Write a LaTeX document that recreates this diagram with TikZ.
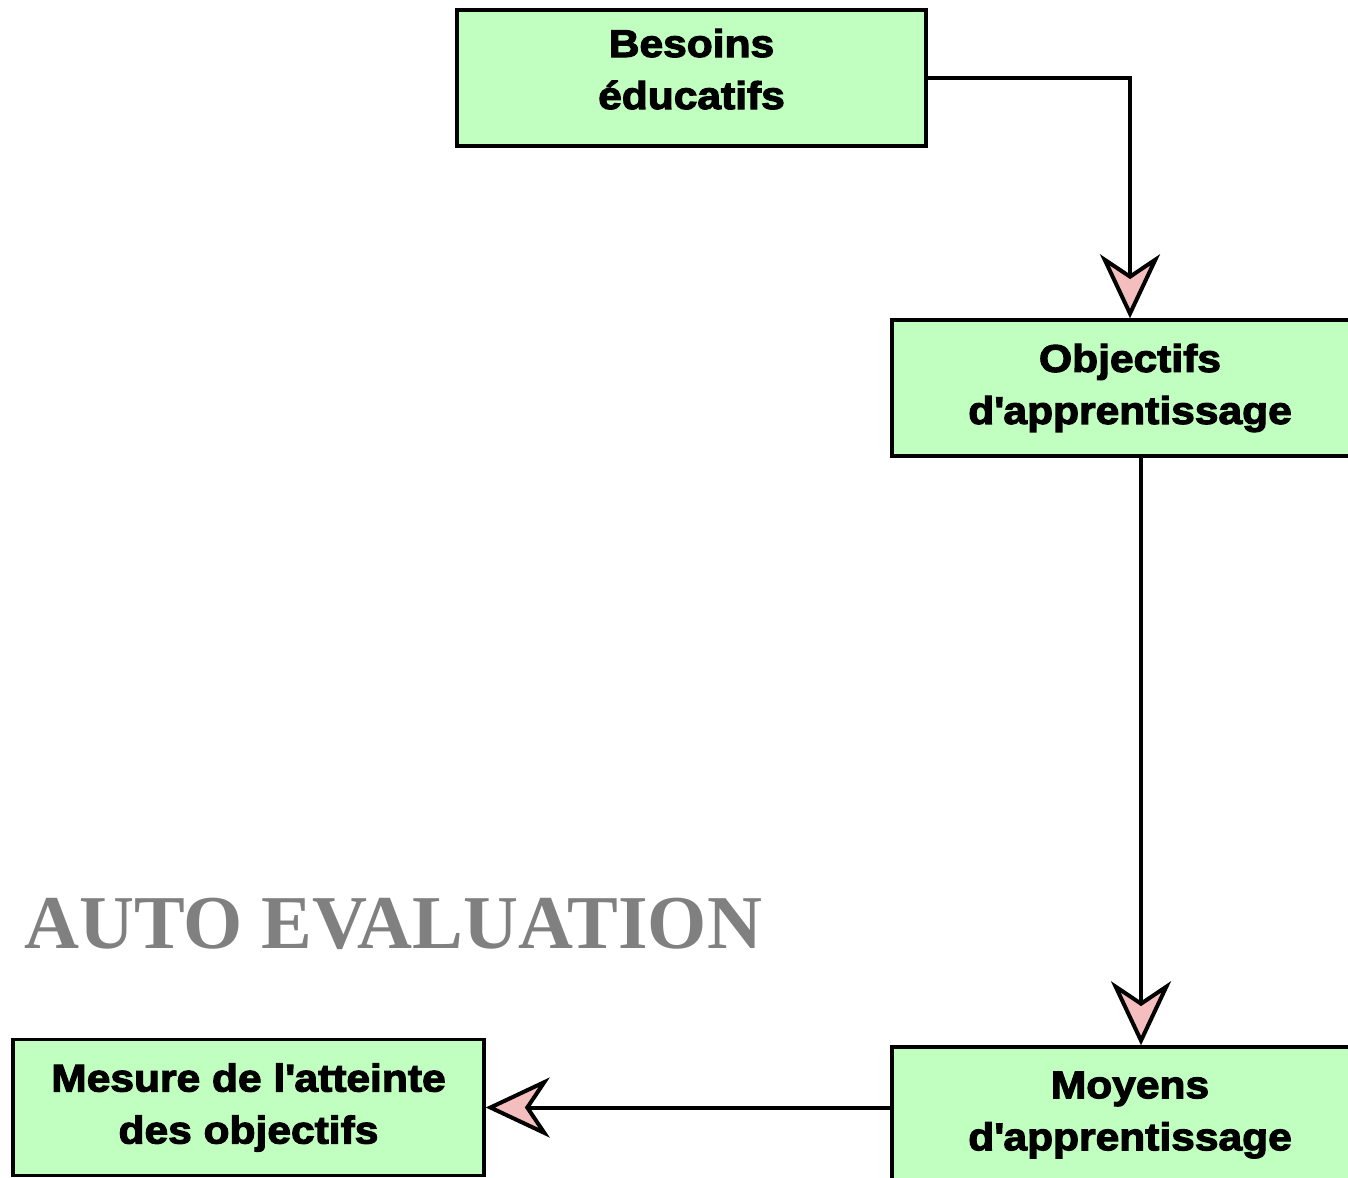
\documentclass[tikz,border=0pt]{standalone}
\usepackage{fontspec}
\setmainfont{Liberation Serif}
\newfontfamily\boxfont[FakeStretch=1.1,BoldFeatures={FakeBold=3}]{Liberation Sans}
\usetikzlibrary{arrows.meta}
\usetikzlibrary{calc}
\definecolor{mgreen}{RGB}{192,255,192}
\definecolor{mpink}{RGB}{245,190,190}
\definecolor{mgray}{RGB}{128,128,128}
\tikzset{box/.style = {draw, line width=0.07cm, fill=mgreen, align=center,
                       minimum height=2.72cm, inner sep=0pt,
                       font={\boxfont\bfseries\fontsize{22}{29.6}\selectfont}},
         flow/.style = {line width=0.08cm,
                        -{Stealth[length=1.28cm, width=1.2cm, inset=0.4cm, fill=mpink]}}}

\begin{document}
\begin{tikzpicture}[x=0.02cm, y=-0.02cm]
    \useasboundingbox (0, 0) rectangle (1348, 1177);

    \node [box, minimum width=9.38cm] (besoins) at (691.5, 78) {Besoins\\éducatifs\rule[-0.36cm]{0pt}{0.36cm}};
    \node [box, minimum width=9.52cm] (objectifs) at (1130, 388) {Objectifs\\d\textquotesingle apprentissage};
    \node [box, minimum width=9.52cm] (moyens) at (1130, 1115) {Moyens\\d\textquotesingle apprentissage};
    \node [box, minimum width=9.42cm] (mesure) at (248.5, 1107.5) {Mesure de l\textquotesingle atteinte\\des objectifs};

    \node [text=mgray, font=\bfseries\fontsize{43.3}{43.3}\selectfont, anchor=base west, inner sep=0pt]
        (auto) at (24, 948) {AUTO EVALUATION};

    \draw [flow] (besoins.east) -| (objectifs.north);
    \draw [flow] ($(objectifs.south)+(11, 0)$) -- ($(moyens.north)+(11, 0)$);
    \draw [flow] (moyens.west |- mesure.east) -- (mesure.east);
\end{tikzpicture}
\end{document}
